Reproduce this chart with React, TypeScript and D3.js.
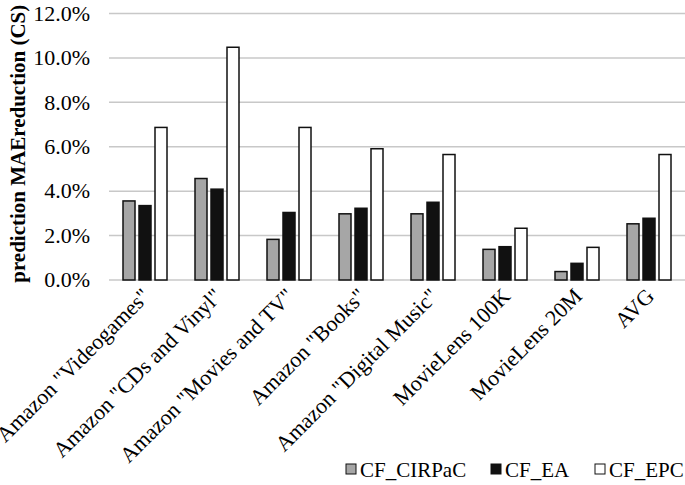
import React from "react";
import * as d3 from "d3";

const categories = [
  'Amazon "Videogames"',
  'Amazon "CDs and Vinyl"',
  'Amazon "Movies and TV"',
  'Amazon "Books"',
  'Amazon "Digital Music"',
  "MovieLens 100K",
  "MovieLens 20M",
  "AVG",
];
const seriesNames = ["CF_CIRPaC", "CF_EA", "CF_EPC"];
const cirpac = [3.56, 4.57, 1.83, 2.98, 2.98, 1.38, 0.38, 2.53];
const ea = [3.35, 4.09, 3.04, 3.23, 3.5, 1.5, 0.75, 2.78];
const epc = [6.87, 10.48, 6.87, 5.91, 5.65, 2.33, 1.47, 5.65];
const yTicks = [0, 2, 4, 6, 8, 10, 12];
const fills = ["#a6a6a6", "#111111", "#ffffff"];

const W = 685;
const H = 485;
const FONT = "'Liberation Serif', 'Times New Roman', serif";

export default function App() {
  const series = [cirpac, ea, epc];
  const x = d3.scaleBand<string>().domain(categories).range([109, 685]).padding(0);
  const y = d3.scaleLinear().domain([0, 12]).range([280, 13.5]);
  const barW = 12;
  const step = 16;

  return (
    <svg width={W} height={H} style={{ position: "absolute", left: 0, top: 0 }}>
      <rect x={0} y={0} width={W} height={H} fill="#fff" />
      {yTicks.map((t) => (
        <g key={t}>
          <line x1={109} x2={685} y1={y(t)} y2={y(t)} stroke="#c8c8c8" strokeWidth={1.5} />
          <text
            x={90}
            y={y(t)}
            dy="0.33em"
            textAnchor="end"
            fontFamily={FONT}
            fontSize={22}
            fill="#000"
          >
            {t.toFixed(1) + "%"}
          </text>
        </g>
      ))}
      <text
        transform={`translate(25, ${(y(0) + y(12)) / 2 - 3}) rotate(-90)`}
        textAnchor="middle"
        fontFamily={FONT}
        fontSize={21}
        fontWeight="bold"
      >
        prediction MAEreduction (CS)
      </text>
      {categories.map((c, i) => {
        const cx = (x(c) as number) + x.bandwidth() / 2;
        return (
          <g key={c}>
            {series.map((s, j) => (
              <rect
                key={j}
                x={cx + (j - 1) * step - barW / 2}
                y={y(s[i])}
                width={barW}
                height={y(0) - y(s[i])}
                fill={fills[j]}
                stroke="#111"
                strokeWidth={1.5}
              />
            ))}
            <text
              transform={`translate(${cx + 1}, 292) rotate(-45)`}
              textAnchor="end"
              fontFamily={FONT}
              fontSize={22}
              dy="0.35em"
            >
              {c}
            </text>
          </g>
        );
      })}
      {(() => {
        const items = [
          { x: 346, name: seriesNames[0], fill: fills[0] },
          { x: 491, name: seriesNames[1], fill: fills[1] },
          { x: 595, name: seriesNames[2], fill: fills[2] },
        ];
        return items.map((it) => (
          <g key={it.name}>
            <rect x={it.x} y={464} width={10} height={10} fill={it.fill} stroke="#111" strokeWidth={1} />
            <text x={it.x + 14} y={477} fontFamily={FONT} fontSize={21}>
              {it.name}
            </text>
          </g>
        ));
      })()}
    </svg>
  );
}
